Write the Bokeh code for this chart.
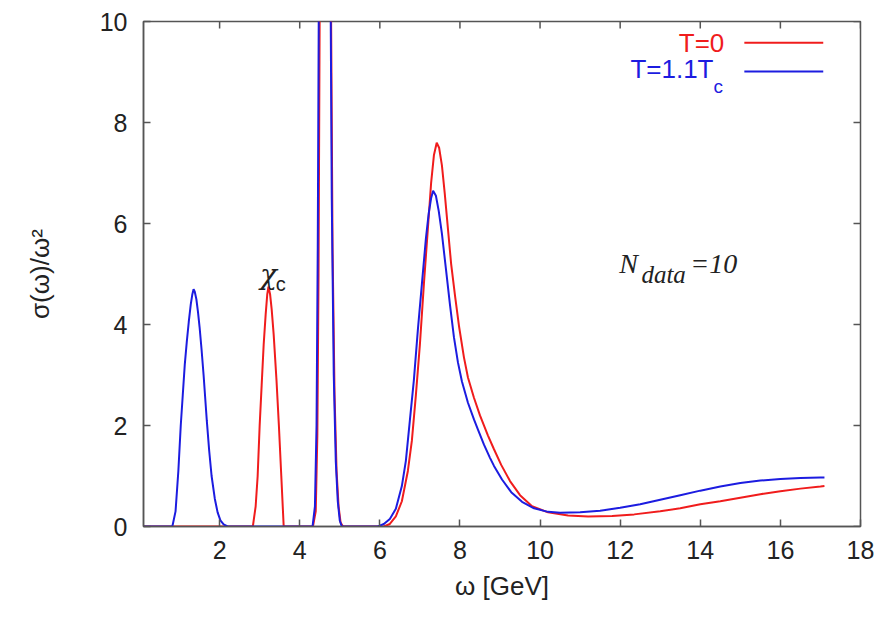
import math
from bokeh.plotting import figure
from bokeh.models import Range1d, Label, FixedTicker
from bokeh.embed import file_html
from bokeh.resources import INLINE

# ---- data ----
omega_T0 = [0.1, 2.83, 2.9, 2.95, 3.0, 3.05, 3.1, 3.15, 3.19, 3.22, 3.26, 3.3, 3.35, 3.42, 3.48, 3.54, 3.6,
            4.33, 4.4, 4.44, 4.47, 4.5, 4.54, 4.58, 4.62, 4.66, 4.7, 4.74, 4.78, 4.82, 4.87, 4.92, 4.97, 5.02, 5.08,
            6.1, 6.25, 6.4, 6.55, 6.7, 6.8, 6.9, 7.0, 7.1, 7.2, 7.28, 7.35, 7.42, 7.48, 7.55, 7.62, 7.7, 7.78, 7.88,
            7.98, 8.1, 8.2, 8.35, 8.5, 8.7, 8.85, 9.03, 9.25, 9.5, 9.8, 10.2, 10.7, 11.2, 11.8, 12.35, 13.0, 13.5,
            14.0, 14.5, 15.0, 15.5, 16.0, 16.5, 17.0, 17.1]
sigma_T0 = [0, 0, 0.4, 1.0, 2.0, 2.8, 3.6, 4.2, 4.6, 4.75, 4.6, 4.3, 3.8, 2.9, 2.0, 1.0, 0,
            0, 0.3, 1.8, 5.0, 10.5, 22, 36, 42, 38, 28, 18, 10.5, 5.5, 2.6, 1.1, 0.4, 0.08, 0,
            0, 0.05, 0.2, 0.5, 1.1, 1.7, 2.6, 3.6, 4.8, 5.9, 6.8, 7.35, 7.6, 7.5, 7.15, 6.6, 5.9, 5.2, 4.55,
            3.95, 3.35, 2.95, 2.55, 2.2, 1.8, 1.53, 1.22, 0.9, 0.62, 0.4, 0.28, 0.22, 0.2, 0.21, 0.24, 0.3, 0.36,
            0.44, 0.5, 0.57, 0.64, 0.7, 0.75, 0.79, 0.8]

omega_T11 = [0.1, 0.82, 0.9, 0.97, 1.03, 1.08, 1.13, 1.18, 1.23, 1.28, 1.32, 1.35, 1.38, 1.42, 1.46, 1.5, 1.55,
             1.6, 1.68, 1.74, 1.8, 1.88, 1.95, 2.02, 2.1, 2.2,
             4.32, 4.38, 4.42, 4.45, 4.48, 4.52, 4.56, 4.6, 4.64, 4.68, 4.72, 4.76, 4.8, 4.85, 4.9, 4.95, 5.0, 5.05,
             5.95, 6.1, 6.25, 6.4, 6.55, 6.65, 6.75, 6.85, 6.95, 7.05, 7.15, 7.22, 7.28, 7.33, 7.4, 7.47, 7.55,
             7.65, 7.75, 7.85, 7.95, 8.05, 8.2, 8.35, 8.45, 8.6, 8.75, 8.85, 9.05, 9.28, 9.55, 9.85, 10.2, 10.5,
             11.0, 11.5, 12.0, 12.5, 13.0, 13.5, 14.0, 14.5, 15.0, 15.5, 16.0, 16.5, 17.0, 17.1]
sigma_T11 = [0, 0, 0.3, 1.1, 2.0, 2.6, 3.2, 3.65, 4.05, 4.4, 4.6, 4.7, 4.65, 4.5, 4.25, 3.95, 3.5,
             3.0, 2.1, 1.5, 1.0, 0.55, 0.28, 0.12, 0.04, 0,
             0, 0.4, 2.0, 5.5, 11, 22, 35, 42, 40, 30, 20, 12, 6.5, 3.0, 1.3, 0.5, 0.12, 0,
             0, 0.05, 0.15, 0.35, 0.8, 1.3, 2.1, 2.9, 3.9, 4.8, 5.7, 6.2, 6.5, 6.65, 6.55, 6.25, 5.8,
             5.1, 4.4, 3.75, 3.25, 2.87, 2.45, 2.12, 1.92, 1.62, 1.36, 1.2, 0.93, 0.68, 0.49, 0.36, 0.29, 0.27,
             0.28, 0.31, 0.37, 0.44, 0.53, 0.62, 0.71, 0.79, 0.86, 0.91, 0.94, 0.96, 0.97, 0.97]

x_ticks = [2, 4, 6, 8, 10, 12, 14, 16, 18]
y_ticks = [0, 2, 4, 6, 8, 10]
x_min, x_max = 0.1, 18
y_min, y_max = 0, 10
series_labels = ["T=0", "T=1.1T"]
x_title = "ω [GeV]"
y_title = "σ(ω)/ω²"

RED = "#f01c1c"
BLUE = "#1c1ce0"
AX = "#555555"
TXT = "#222222"
FONT = "Liberation Sans"
TICK_FS = "25px"

p = figure(width=884, height=611, output_backend="svg", toolbar_location=None,
           x_range=Range1d(x_min, x_max), y_range=Range1d(y_min, y_max),
           min_border_left=143, min_border_right=24, min_border_top=21, min_border_bottom=85)
p.xgrid.visible = False
p.ygrid.visible = False
p.outline_line_color = AX
p.outline_line_width = 1.5

xa = p.xaxis[0]
xa.ticker = FixedTicker(ticks=x_ticks)
ya = p.yaxis[0]
ya.ticker = FixedTicker(ticks=y_ticks)
for ax in (xa, ya):
    ax.major_tick_in = 7
    ax.major_tick_out = 0
    ax.minor_tick_in = 0
    ax.minor_tick_out = 0
    ax.major_tick_line_color = AX
    ax.major_tick_line_width = 1.5
    ax.axis_line_color = AX
    ax.axis_line_width = 1.5
    ax.major_label_text_font = FONT
    ax.major_label_text_color = TXT
    ax.major_label_text_font_size = TICK_FS
    ax.axis_label_text_font = FONT
    ax.axis_label_text_font_style = "normal"
    ax.axis_label_text_font_size = "26px"
    ax.axis_label_text_color = TXT

xa.axis_label = x_title
xa.major_label_standoff = 14
xa.axis_label_standoff = 9
ya.axis_label = y_title
ya.major_label_standoff = 16
ya.axis_label_standoff = 42

# mirror ticks on the top and right edges (drawn inward, 7 px long)
p.ray(x=x_ticks, y=[y_max] * len(x_ticks), length=7, length_units="screen", angle=-math.pi / 2,
      line_color=AX, line_width=1.5)
p.ray(x=[x_max] * len(y_ticks), y=y_ticks, length=7, length_units="screen", angle=math.pi,
      line_color=AX, line_width=1.5)

p.line(omega_T0, sigma_T0, line_color=RED, line_width=2)
p.line(omega_T11, sigma_T11, line_color=BLUE, line_width=2)

# legend (text on the left, line sample on the right)
p.add_layout(Label(x=14.6, y=9.58, text=series_labels[0], text_align="right", text_baseline="middle",
                   text_font=FONT, text_font_size="26px", text_color=RED))
p.add_layout(Label(x=14.33, y=9.05, text=series_labels[1], text_align="right", text_baseline="middle",
                   text_font=FONT, text_font_size="26px", text_color=BLUE))
p.add_layout(Label(x=14.33, y=8.72, text="c", text_align="left", text_baseline="middle",
                   text_font=FONT, text_font_size="19px", text_color=BLUE))
p.segment(x0=[15.1], y0=[9.58], x1=[17.07], y1=[9.58], line_color=RED, line_width=2)
p.segment(x0=[15.1], y0=[9.01], x1=[17.07], y1=[9.01], line_color=BLUE, line_width=2)

# annotations
p.add_layout(Label(x=3.22, y=5.0, text="χ", text_align="center", text_baseline="middle",
                   text_font="DejaVu Serif", text_font_style="italic", text_font_size="28px", text_color=TXT))
p.add_layout(Label(x=3.4, y=4.8, text="c", text_align="left", text_baseline="middle",
                   text_font=FONT, text_font_size="20px", text_color=TXT))
p.add_layout(Label(x=11.98, y=5.2, text="N", text_align="left", text_baseline="middle",
                   text_font="Liberation Serif", text_font_style="italic", text_font_size="28px",
                   text_color=TXT))
p.add_layout(Label(x=12.53, y=5.0, text="data", text_align="left", text_baseline="middle",
                   text_font="Liberation Serif", text_font_style="italic", text_font_size="25px",
                   text_color=TXT))
p.add_layout(Label(x=13.75, y=5.2, text="=10", text_align="left", text_baseline="middle",
                   text_font="Liberation Serif", text_font_style="italic", text_font_size="28px",
                   text_color=TXT))

open("out.html", "w").write(file_html(p, INLINE))
